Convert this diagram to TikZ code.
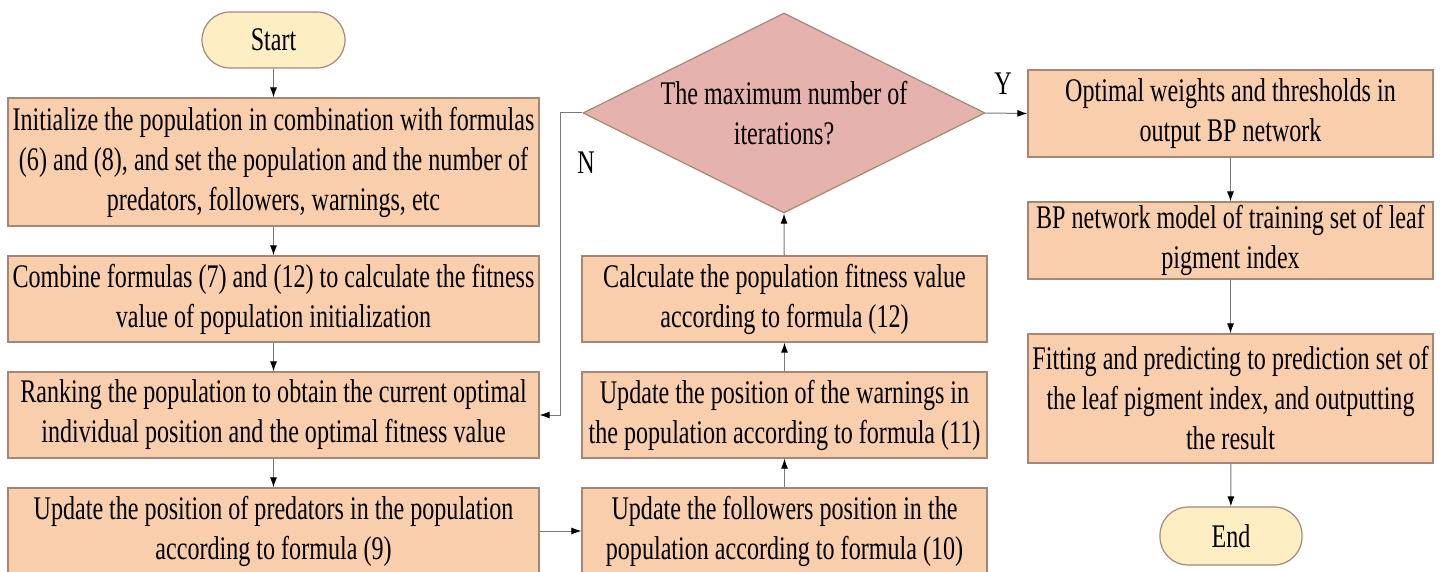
\documentclass[tikz,border=0pt]{standalone}
\usepackage{fontspec}
\setmainfont{Liberation Serif}[FakeStretch=0.73]
\usetikzlibrary{shapes.geometric,arrows.meta}

\tikzset{
    box/.style={draw={rgb, 255:red, 165; green, 135; blue, 120 }, line width=1.2pt, fill={rgb, 255:red, 248; green, 206; blue, 172 }, inner sep=0pt, align=center, font=\fontsize{33}{40}\selectfont},
    term/.style={box, fill={rgb, 255:red, 253; green, 238; blue, 196 }, rounded corners=28pt},
    decide/.style={box, diamond, aspect=2, fill={rgb, 255:red, 230; green, 178; blue, 173 }},
    conn/.style={draw={rgb, 255:red, 120; green, 120; blue, 120 }, line width=1pt, -{Latex[length=10pt,width=7pt,color=black]}},
    lbl/.style={inner sep=0pt, font=\fontsize{33}{40}\selectfont}
}

\begin{document}
\begin{tikzpicture}[x=1pt,y=1pt,yscale=-1]
    \useasboundingbox (0,0) rectangle (1448,572);

    %Shape: Terminal [start]
    \node [term, minimum width=143, minimum height=56] (start) at (273.5,40) {Start};

    %Shape: Rectangle [left column]
    \node [box, minimum width=531, minimum height=128] (init) at (273.5,162) {Initialize the population in combination with formulas\\(6) and (8), and set the population and the number of\\predators, followers, warnings, etc};
    \node [box, minimum width=531, minimum height=86] (comb) at (273.5,299) {Combine formulas (7) and (12) to calculate the fitness\\value of population initialization};
    \node [box, minimum width=531, minimum height=86] (rank) at (273.5,415) {Ranking the population to obtain the current optimal\\individual position and the optimal fitness value};
    \node [box, minimum width=531, minimum height=86] (pred) at (273.5,531) {Update the position of predators in the population\\according to formula (9)};

    %Shape: Diamond [dec]
    \node [decide, minimum width=402, minimum height=200] (dec) at (784,113) {The maximum number of\\iterations?};

    %Shape: Rectangle [middle column]
    \node [box, minimum width=405, minimum height=86] (calc) at (784.5,299) {Calculate the population fitness value\\according to formula (12)};
    \node [box, minimum width=405, minimum height=86] (warn) at (784.5,415) {Update the position of the warnings in\\the population according to formula (11)};
    \node [box, minimum width=405, minimum height=86] (foll) at (784.5,531) {Update the followers position in the\\population according to formula (10)};

    %Shape: Rectangle [right column]
    \node [box, minimum width=405, minimum height=87] (opt) at (1230.5,113.5) {Optimal weights and thresholds in\\output BP network};
    \node [box, minimum width=405, minimum height=77] (model) at (1230.5,240.5) {BP network model of training set of leaf\\pigment index};
    \node [box, minimum width=405, minimum height=129] (fit) at (1230.5,398.5) {Fitting and predicting to prediction set of\\the leaf pigment index, and outputting\\the result};

    %Shape: Terminal [end]
    \node [term, minimum width=142, minimum height=58] (end) at (1231,536) {End};

    %Straight Lines
    \draw [conn] (start) -- (init);
    \draw [conn] (init) -- (comb);
    \draw [conn] (comb) -- (rank);
    \draw [conn] (rank) -- (pred);
    \draw [conn] (pred) -- (foll);
    \draw [conn] (foll) -- (warn);
    \draw [conn] (warn) -- (calc);
    \draw [conn] (calc) -- (dec.south);
    \draw [conn] (dec.east) -- (opt.west);
    \draw [conn] (dec.west) -- ++(-22,0) |- (rank.east);
    \draw [conn] (opt) -- (model);
    \draw [conn] (model) -- (fit);
    \draw [conn] (fit) -- (end);

    % Text Node
    \node [lbl] (yes) at (1003,84) {Y};
    % Text Node
    \node [lbl] (no) at (586,163) {N};

\end{tikzpicture}
\end{document}
